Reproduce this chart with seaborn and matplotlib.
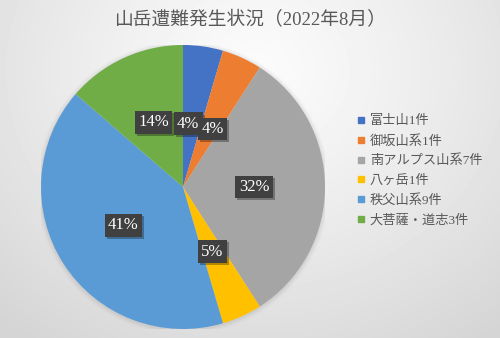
import numpy as np
import matplotlib
matplotlib.use("Agg")
import matplotlib.pyplot as plt
import matplotlib.patheffects as pe
from matplotlib.lines import Line2D
import seaborn as sns

# Mountain accident counts, August 2022
areas = ["富士山", "御坂山系", "南アルプス山系", "八ヶ岳", "秩父山系", "大菩薩・道志"]
counts = [1, 1, 7, 1, 9, 3]
pct_labels = [4, 4, 32, 5, 41, 14]
title = "山岳遭難発生状況（2022年8月）"

sns.set_theme(style="white")
plt.rcParams["font.family"] = ["Liberation Serif", "Noto Sans CJK JP", "DejaVu Sans"]

colors = sns.color_palette(["#4472C4", "#ED7D31", "#A5A5A5", "#FFC000", "#5B9BD5", "#70AD47"])

W, H = 500, 338
fig = plt.figure(figsize=(W / 100, H / 100), dpi=100)

# radial background shading
bg = fig.add_axes([0, 0, 1, 1])
yy, xx = np.mgrid[0:H, 0:W]
d = np.hypot(xx - 255, (yy - 70) * 1.15) / 380
shade = 0.985 - 0.15 * np.clip(d, 0, 1) ** 1.2
bg.imshow(shade, cmap="gray", vmin=0, vmax=1, aspect="auto", extent=(0, 1, 0, 1))
bg.set_axis_off()

# pie axes: centre (183,187) px, radius 142 px
cx, cy, R = 183, 187, 142
ax = fig.add_axes([(cx - R) / W, (H - cy - R) / H, 2 * R / W, 2 * R / H])
ax.set_facecolor("none")

# soft shadow under the pie
for i, a in enumerate(np.linspace(0.05, 0.012, 6)):
    ax.add_patch(plt.Circle((0.0, -0.006), 1.0 + 0.006 * (i + 1), color="#808080",
                            alpha=a, lw=0, zorder=0))

wedges, _ = ax.pie(counts, colors=colors, startangle=90, counterclock=False,
                   radius=1.0, wedgeprops=dict(linewidth=0))
ax.set_xlim(-1, 1)
ax.set_ylim(-1, 1)
ax.set_aspect("equal")
ax.set_axis_off()

total = sum(counts)
cum = np.cumsum([0] + counts)
label_r = [0.45, 0.45, 0.5, 0.5, 0.5, 0.5]
label_dx = [-4, 3, 0, 0, 0, 0]  # pixel nudges for the two thin slices
for i, p in enumerate(pct_labels):
    mid = (cum[i] + cum[i + 1]) / 2 / total * 2 * np.pi
    x = label_r[i] * np.sin(mid) + label_dx[i] / R
    y = label_r[i] * np.cos(mid)
    t = ax.text(x, y, f"{p}%", ha="center", va="center", fontsize=12, color="white",
                family="Liberation Serif", zorder=5 + i,
                bbox=dict(boxstyle="square,pad=0.2", fc="#404040", ec="none"))
    t.get_bbox_patch().set_path_effects(
        [pe.SimplePatchShadow(offset=(1.5, -1.5), shadow_rgbFace="black", alpha=0.3),
         pe.Normal()])

fig.text(0.5, 1 - 20 / H, title, ha="center", va="center", fontsize=13.5, color="#595959")

handles = [Line2D([], [], marker="s", ls="", color=c, markersize=5) for c in colors]
labels = [f"{a}{n}件" for a, n in zip(areas, counts)]
leg = fig.legend(handles, labels, loc="upper left", bbox_to_anchor=(348 / W, 1 - 106 / H),
                 frameon=False, fontsize=9.5, handlelength=0.6, handletextpad=0.35,
                 labelspacing=0.55, borderpad=0.2)
for t in leg.get_texts():
    t.set_color("#595959")

fig.savefig("out.png", dpi=100)
